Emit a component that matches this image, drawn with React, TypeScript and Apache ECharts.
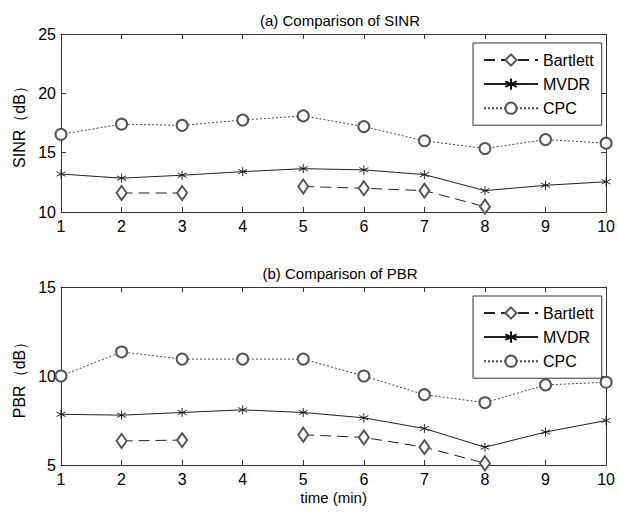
import React, { useEffect, useRef } from "react";
import * as echarts from "echarts";

const timeMin = [1, 2, 3, 4, 5, 6, 7, 8, 9, 10];
const seriesNames = ["Bartlett", "MVDR", "CPC"];
const sinrBartlett = [null, 11.6, 11.6, null, 12.15, 12.0, 11.8, 10.45, null, null];
const sinrMvdr = [13.2, 12.85, 13.1, 13.4, 13.65, 13.55, 13.15, 11.8, 12.25, 12.55];
const sinrCpc = [16.55, 17.4, 17.3, 17.75, 18.1, 17.2, 16.0, 15.35, 16.1, 15.8];
const pbrBartlett = [null, 6.35, 6.4, null, 6.7, 6.55, 6.0, 5.1, null, null];
const pbrMvdr = [7.85, 7.8, 7.95, 8.1, 7.95, 7.65, 7.05, 6.0, 6.85, 7.5];
const pbrCpc = [10.0, 11.35, 10.95, 10.95, 10.95, 10.0, 8.95, 8.5, 9.5, 9.65];
const titles = ["(a) Comparison of SINR", "(b) Comparison of PBR"];
const yNames = ["SINR\uff08dB\uff09", "PBR\uff08dB\uff09"];
const xName = "time (min)";

const FONT = "'Liberation Sans', Arial, sans-serif";
const AXIS = "#333";
const LINE = "#222";
const STAR = "path://M5 0 L5 10 M0.67 2.5 L9.33 7.5 M0.67 7.5 L9.33 2.5";

function pairs(vals: (number | null)[]) {
  return timeMin.map((t, i) => [t, vals[i] == null ? "-" : vals[i]]);
}

export default function App() {
  const ref = useRef<HTMLDivElement>(null);
  useEffect(() => {
    if (!ref.current) return;
    const chart = echarts.init(ref.current, undefined, { renderer: "svg" });
    const grids = [
      { left: 61, right: 9, top: 34, height: 178 },
      { left: 61, right: 9, top: 287, height: 178 },
    ];
    const yRanges = [
      [10, 25],
      [5, 15],
    ];
    const xAxes: any[] = [];
    const yAxes: any[] = [];
    grids.forEach((_, g) => {
      const baseX = {
        type: "value",
        gridIndex: g,
        min: 1,
        max: 10,
        interval: 1,
        splitLine: { show: false },
        axisLine: { lineStyle: { color: AXIS, width: 1 } },
        axisTick: { inside: true, length: 5, lineStyle: { color: AXIS } },
      };
      xAxes.push({
        ...baseX,
        position: "bottom",
        axisLabel: { fontSize: 16, color: "#000", fontFamily: FONT, margin: 6 },
        ...(g === 1
          ? {
              name: xName,
              nameLocation: "middle",
              nameGap: 25,
              nameTextStyle: { fontSize: 15, color: "#000", fontFamily: FONT },
            }
          : {}),
      });
      xAxes.push({ ...baseX, position: "top", axisLabel: { show: false } });
      const baseY = {
        type: "value",
        gridIndex: g,
        min: yRanges[g][0],
        max: yRanges[g][1],
        interval: 5,
        splitLine: { show: false },
        axisLine: { show: true, lineStyle: { color: AXIS, width: 1 } },
        axisTick: { show: true, inside: true, length: 5, lineStyle: { color: AXIS } },
      };
      yAxes.push({
        ...baseY,
        position: "left",
        axisLabel: { fontSize: 16, color: "#000", fontFamily: FONT, margin: 5 },
        name: yNames[g],
        nameLocation: "middle",
        nameGap: 34,
        nameRotate: 90,
        nameTextStyle: { fontSize: 16, color: "#000", fontFamily: FONT },
      });
      yAxes.push({ ...baseY, position: "right", axisLabel: { show: false } });
    });

    const datasets = [
      [sinrBartlett, sinrMvdr, sinrCpc],
      [pbrBartlett, pbrMvdr, pbrCpc],
    ];
    const series: any[] = [];
    datasets.forEach((ds, g) => {
      series.push({
        name: seriesNames[0],
        type: "line",
        xAxisIndex: g * 2,
        yAxisIndex: g * 2,
        data: pairs(ds[0]),
        symbol: "emptyDiamond",
        symbolSize: [10, 14],
        showAllSymbol: true,
        connectNulls: false,
        lineStyle: { color: LINE, width: 1, type: [11, 6] },
        itemStyle: { color: "#555", borderColor: "#555", borderWidth: 0.9 },
      });
      series.push({
        name: seriesNames[1],
        type: "line",
        xAxisIndex: g * 2,
        yAxisIndex: g * 2,
        data: pairs(ds[1]),
        symbol: STAR,
        symbolSize: 9,
        showAllSymbol: true,
        lineStyle: { color: LINE, width: 1, type: "solid" },
        itemStyle: { color: "none", borderColor: "#111", borderWidth: 0.9 },
      });
      series.push({
        name: seriesNames[2],
        type: "line",
        xAxisIndex: g * 2,
        yAxisIndex: g * 2,
        data: pairs(ds[2]),
        symbol: "emptyCircle",
        symbolSize: 11,
        showAllSymbol: true,
        lineStyle: { color: "#444", width: 1, type: [2, 2] },
        itemStyle: { color: "#555", borderColor: "#555", borderWidth: 0.9 },
      });
    });

    const legendBase = {
      orient: "vertical",
      left: 473,
      width: 129,
      data: seriesNames,
      selectedMode: false,
      itemWidth: 54,
      itemHeight: 14,
      itemGap: 8,
      padding: [9, 8, 9, 10],
      borderColor: "#333",
      borderWidth: 1,
      backgroundColor: "#fff",
      textStyle: { fontSize: 16, color: "#000", fontFamily: FONT },
    };

    chart.setOption({
      animation: false,
      backgroundColor: "#fff",
      textStyle: { fontFamily: FONT },
      title: titles.map((t, i) => ({
        text: t,
        left: 335,
        top: i === 0 ? 8 : 261,
        textAlign: "center",
        textStyle: { fontSize: 15, fontWeight: "normal", color: "#000", fontFamily: FONT },
      })),
      legend: [
        { ...legendBase, top: 43 },
        { ...legendBase, top: 296 },
      ],
      grid: grids,
      xAxis: xAxes,
      yAxis: yAxes,
      series,
    });
    return () => chart.dispose();
  }, []);
  return (
    <div
      ref={ref}
      style={{ position: "fixed", left: 0, top: 0, width: 618, height: 514, background: "#fff" }}
    />
  );
}
